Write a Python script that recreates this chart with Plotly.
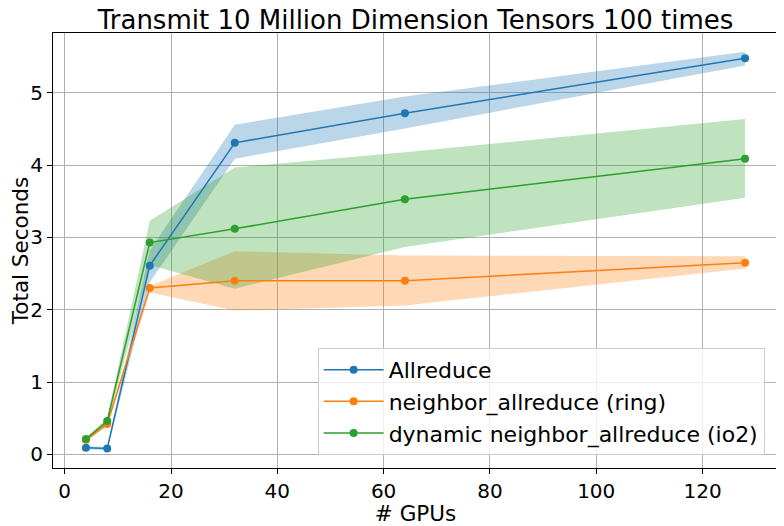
import plotly.graph_objects as go

# number of GPUs
gpus = [4, 8, 16, 32, 64, 128]

# mean total seconds and spread
allreduce = [0.09, 0.08, 2.61, 4.31, 4.72, 5.48]
allreduce_lo = [0.07, 0.06, 2.38, 4.09, 4.51, 5.38]
allreduce_hi = [0.11, 0.10, 2.82, 4.56, 4.95, 5.57]

ring = [0.20, 0.42, 2.30, 2.40, 2.40, 2.65]
ring_lo = [0.18, 0.38, 2.24, 1.99, 2.06, 2.57]
ring_hi = [0.22, 0.46, 2.33, 2.81, 2.75, 2.74]

dynamic = [0.21, 0.46, 2.93, 3.12, 3.53, 4.09]
dynamic_lo = [0.19, 0.41, 2.62, 2.29, 2.87, 3.55]
dynamic_hi = [0.23, 0.50, 3.23, 3.97, 4.18, 4.64]

series = [
    ("Allreduce", allreduce, allreduce_lo, allreduce_hi, "#1f77b4", "rgba(31,119,180,0.3)"),
    ("neighbor_allreduce (ring)", ring, ring_lo, ring_hi, "#ff7f0e", "rgba(255,127,14,0.3)"),
    ("dynamic neighbor_allreduce (io2)", dynamic, dynamic_lo, dynamic_hi, "#2ca02c", "rgba(44,160,44,0.3)"),
]

fig = go.Figure()

# shaded bands first, lines on top
for name, mean, lo, hi, color, fill in series:
    fig.add_trace(go.Scatter(
        x=gpus + gpus[::-1],
        y=hi + lo[::-1],
        fill="toself",
        fillcolor=fill,
        line=dict(width=0),
        mode="lines",
        showlegend=False,
        hoverinfo="skip",
    ))

for name, mean, lo, hi, color, fill in series:
    fig.add_trace(go.Scatter(
        x=gpus,
        y=mean,
        mode="lines+markers",
        name=name,
        line=dict(color=color, width=1.5),
        marker=dict(color=color, size=8),
    ))

axis_style = dict(
    showgrid=True,
    gridcolor="#b0b0b0",
    gridwidth=1,
    zeroline=False,
    showline=True,
    linecolor="black",
    linewidth=1,
    mirror=True,
    ticks="outside",
    ticklen=5,
    tickcolor="black",
    tickfont=dict(size=20, color="black"),
    automargin=False,
)

# the page body has an 8px margin, so the figure is a bit smaller than the window
fig.update_layout(
    width=776,
    height=518,
    margin=dict(l=45, r=6, t=25, b=58),
    paper_bgcolor="white",
    plot_bgcolor="white",
    font=dict(family="DejaVu Sans", color="black"),
    title=dict(
        text="Transmit 10 Million Dimension Tensors 100 times",
        font=dict(size=26, color="black"),
        xref="paper",
        x=0.5,
        xanchor="center",
        yref="container",
        y=0.994,
        yanchor="top",
        automargin=False,
    ),
    xaxis=dict(
        range=[-2.2, 134.2],
        tickvals=[0, 20, 40, 60, 80, 100, 120],
        title=dict(text="# GPUs", font=dict(size=21.5), standoff=0),
        **axis_style,
    ),
    yaxis=dict(
        range=[-0.19, 5.83],
        tickvals=[0, 1, 2, 3, 4, 5],
        title=dict(text="Total Seconds", font=dict(size=21.5), standoff=4),
        **axis_style,
    ),
    legend=dict(
        x=0.365,
        y=0.03,
        xanchor="left",
        yanchor="bottom",
        bgcolor="rgba(255,255,255,0.8)",
        bordercolor="#cccccc",
        borderwidth=1,
        itemwidth=60,
        font=dict(size=22, color="black"),
    ),
    showlegend=True,
)

fig.write_html("out.html")
